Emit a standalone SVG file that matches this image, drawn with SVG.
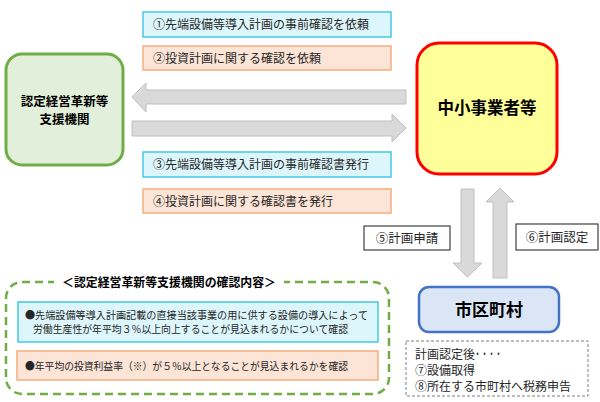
<svg xmlns="http://www.w3.org/2000/svg" width="600" height="402" viewBox="0 0 600 402">
<style>
text{font-family:"Noto Sans CJK JP","Noto Sans",sans-serif;fill:#262626}
.b{font-weight:bold;fill:#000}
.lbl{font-size:12px}
.cy{fill:#DDF6FC;stroke:#46C8E6;stroke-width:1.5}
.or{fill:#FCE4D6;stroke:#F4AE7C;stroke-width:1.5}
.wb{fill:#fff;stroke:#404040;stroke-width:1.2}
.arr{fill:#D9D9D9;stroke:#BFBFBF;stroke-width:1}
</style>
<rect width="600" height="402" fill="#fff"/>

<g id="connectors">
  <polygon class="arr" points="132,97 146,83 146,90 406,90 406,104 146,104 146,112"/>
  <polygon class="arr" points="406,128 392,114 392,121 132,121 132,136 392,136 392,142"/>
  <polygon class="arr" points="461,189 474,189 474,263 482,263 467.5,277 453,263 461,263"/>
  <polygon class="arr" points="500,188 514,202 507,202 507,278 493,278 493,202 486,202"/>
</g>

<g id="label1">
  <rect class="cy" x="143" y="12" width="248" height="25"/>
  <text class="lbl" x="153" y="29">①先端設備等導入計画の事前確認を依頼</text>
</g>
<g id="label2">
  <rect class="or" x="143" y="46" width="248" height="24"/>
  <text class="lbl" x="153" y="63">②投資計画に関する確認を依頼</text>
</g>
<g id="label3">
  <rect class="cy" x="143" y="152" width="248" height="25"/>
  <text class="lbl" x="153" y="169">③先端設備等導入計画の事前確認書発行</text>
</g>
<g id="label4">
  <rect class="or" x="143" y="189" width="248" height="24"/>
  <text class="lbl" x="153" y="206">④投資計画に関する確認書を発行</text>
</g>

<g id="node-shien">
  <rect x="6" y="54" width="117" height="111" rx="16" fill="#E2EFDA" stroke="#70AD47" stroke-width="3"/>
  <text class="b" x="64.5" y="105.5" font-size="12.5" text-anchor="middle">認定経営革新等</text>
  <text class="b" x="64.5" y="124" font-size="12.5" text-anchor="middle">支援機関</text>
</g>

<g id="node-chusho">
  <rect x="417" y="43" width="140" height="131" rx="22" fill="#FFFF99" stroke="#FF0000" stroke-width="3"/>
  <text class="b" x="487" y="114" font-size="16.5" text-anchor="middle">中小事業者等</text>
</g>

<g id="label5">
  <rect class="wb" x="364" y="226" width="86" height="24"/>
  <text x="407" y="243" font-size="12.5" text-anchor="middle">⑤計画申請</text>
</g>
<g id="label6">
  <rect class="wb" x="516" y="224" width="82" height="26"/>
  <text x="557" y="242" font-size="12.5" text-anchor="middle">⑥計画認定</text>
</g>

<g id="node-shikuchoson">
  <rect x="419" y="287" width="140" height="45" rx="10" fill="#DAE6F5" stroke="#4472C4" stroke-width="2.5"/>
  <text class="b" x="489" y="316" font-size="17" text-anchor="middle">市区町村</text>
</g>

<g id="note">
  <rect x="406" y="341" width="182" height="55" fill="#fff" stroke="#7F7F7F" stroke-width="1" stroke-dasharray="3 2"/>
  <text x="415" y="359" font-size="12">計画認定後<tspan x="474" textLength="28" lengthAdjust="spacingAndGlyphs">・・・・</tspan></text>
  <text x="415" y="375" font-size="12">⑦設備取得</text>
  <text x="415" y="391" font-size="12">⑧所在する市町村へ税務申告</text>
</g>

<g id="kakunin">
  <rect x="6" y="282" width="383" height="112" rx="16" fill="none" stroke="#70AD47" stroke-width="2.5" stroke-dasharray="8 5"/>
  <rect x="54" y="274" width="230" height="16" fill="#fff"/>
  <text class="b" x="169" y="287" font-size="12" text-anchor="middle" textLength="214" lengthAdjust="spacingAndGlyphs">＜認定経営革新等支援機関の確認内容＞</text>
  <rect class="cy" x="18" y="302" width="360" height="40"/>
  <text x="25" y="319" font-size="10.5" textLength="343" lengthAdjust="spacingAndGlyphs">●先端設備等導入計画記載の直接当該事業の用に供する設備の導入によって</text>
  <text x="33" y="333" font-size="10.5" textLength="315" lengthAdjust="spacingAndGlyphs">労働生産性が年平均３％以上向上することが見込まれるかについて確認</text>
  <rect class="or" x="17" y="351" width="361" height="29"/>
  <text x="25" y="370" font-size="10.5" textLength="323" lengthAdjust="spacingAndGlyphs">●年平均の投資利益率（※）が５％以上となることが見込まれるかを確認</text>
</g>
</svg>
